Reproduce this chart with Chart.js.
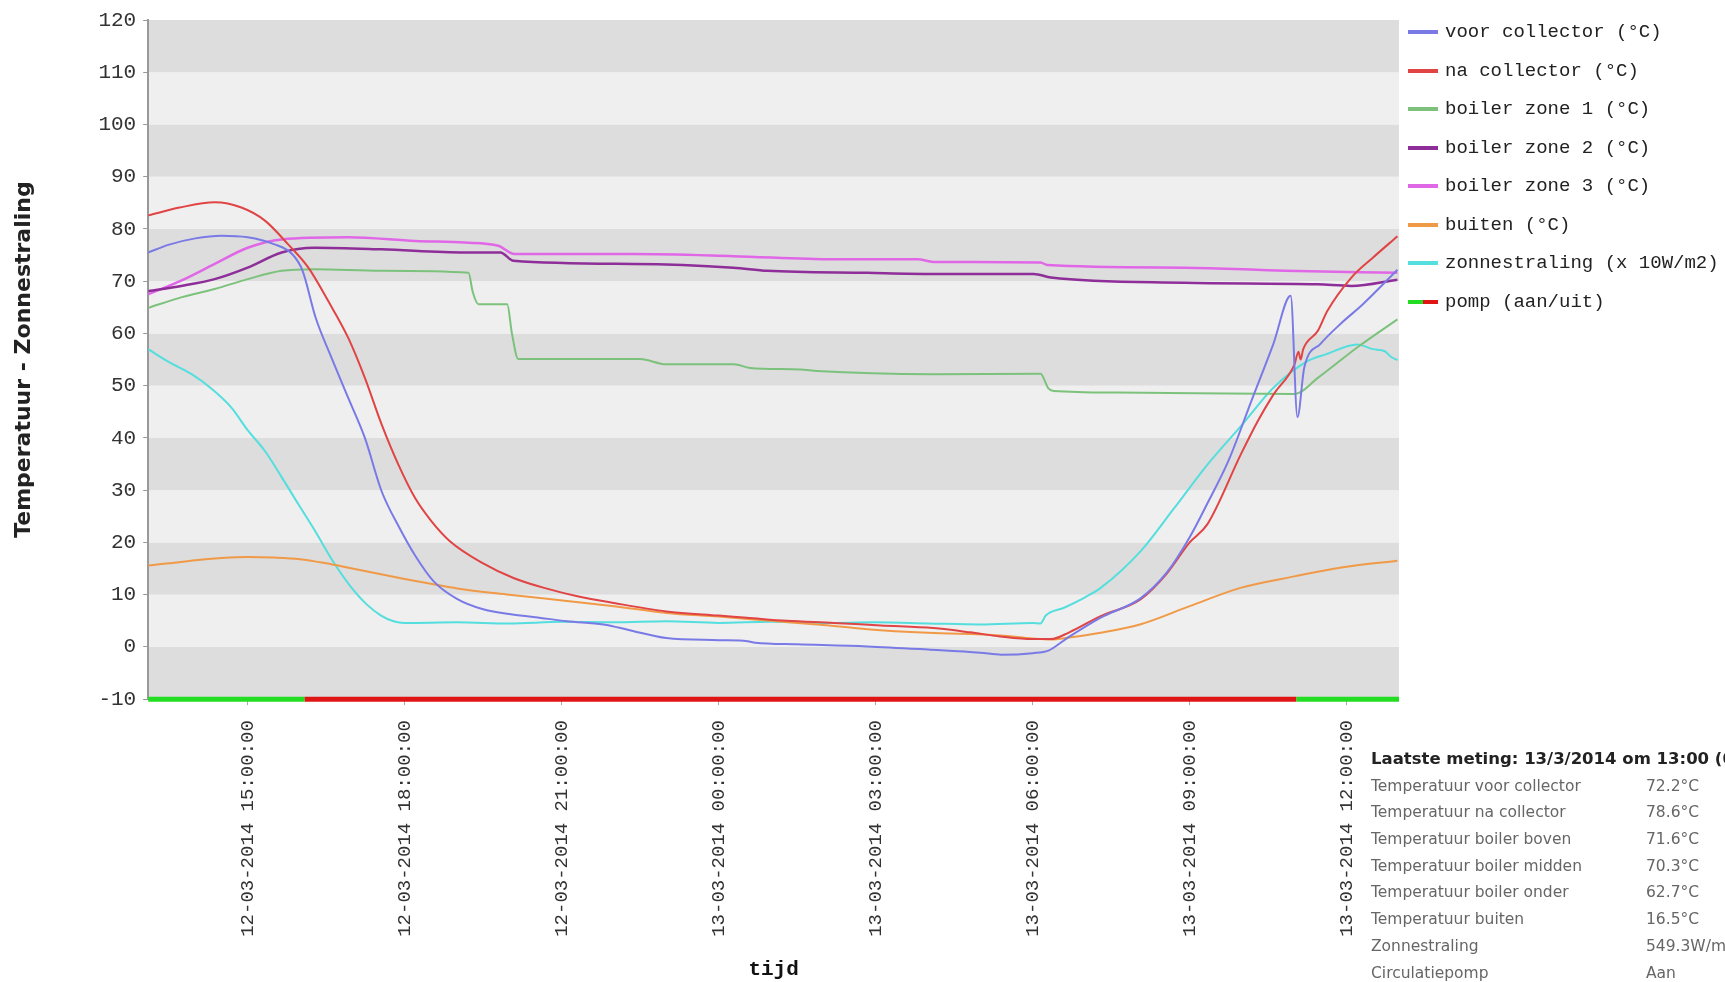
<!DOCTYPE html>
<html>
<head>
<meta charset="utf-8">
<title>Zonneboiler</title>
<script src="https://cdn.jsdelivr.net/npm/chart.js@4/dist/chart.umd.min.js"></script>
<style>
  html, body { margin: 0; padding: 0; background: #fff; overflow: hidden; }
  #wrap { position: relative; width: 1725px; height: 982px; overflow: hidden; }
  #grafiek { position: absolute; left: 0; top: 0; }
  #meting { position: absolute; left: 1371px; top: 746px; font-family: "DejaVu Sans", Verdana, sans-serif; font-size: 15.5px; color: #666; white-space: nowrap; }
  #meting .kop { font-weight: bold; color: #222; font-size: 16.5px; height: 26.7px; line-height: 26.7px; }
  #meting .rij { height: 26.7px; line-height: 26.7px; }
  #meting .rij span { display: inline-block; }
  #meting .rij span:first-child { width: 275px; }
</style>
</head>
<body>
<div id="wrap">
  <canvas id="grafiek" width="1725" height="982"></canvas>
  <div id="meting"></div>
</div>
<script>
// uren sinds 12-03-2014 00:00
const tijdVan = 13.1;
const tijdTot = 37.0;
const tickUren = [15, 18, 21, 24, 27, 30, 33, 36];
const tickLabels = [
  '12-03-2014 15:00:00', '12-03-2014 18:00:00', '12-03-2014 21:00:00', '13-03-2014 00:00:00',
  '13-03-2014 03:00:00', '13-03-2014 06:00:00', '13-03-2014 09:00:00', '13-03-2014 12:00:00'
];
const yTicks = [-10, 0, 10, 20, 30, 40, 50, 60, 70, 80, 90, 100, 110, 120];

const voorCollector = [
  [13.1, 75.5], [13.5, 77.0], [14.0, 78.2], [14.5, 78.7], [15.0, 78.4], [15.5, 77.1], [15.85, 75.2],
  [16.05, 72.0], [16.3, 63.0], [16.6, 55.4], [16.92, 47.7], [17.24, 40.0], [17.56, 29.8], [17.9, 22.8],
  [18.2, 17.5], [18.55, 12.6], [19.0, 9.2], [19.5, 7.2], [20.0, 6.3], [20.5, 5.7], [21.1, 4.9],
  [21.8, 4.3], [22.3, 3.2], [23.0, 1.7], [24.0, 1.3], [24.55, 1.1], [24.7, 0.8], [25.5, 0.5],
  [26.84, 0.1], [28.0, -0.5], [29.0, -1.1], [29.4, -1.5], [30.0, -1.2], [30.3, -0.7], [30.66, 1.7],
  [31.3, 5.6], [32.06, 9.3], [32.56, 14.2], [33.0, 21.0], [33.34, 27.5], [33.74, 35.6], [34.18, 47.1],
  [34.6, 58.0], [34.93, 67.2], [35.06, 44.0], [35.19, 53.5], [35.5, 58.0], [35.9, 62.0], [36.3, 65.5],
  [36.97, 72.2]
];
const naCollector = [
  [13.1, 82.6], [13.7, 84.1], [14.37, 85.1], [14.88, 84.1], [15.33, 81.6], [15.77, 77.1], [16.16, 72.6],
  [16.54, 66.2], [16.92, 59.2], [17.24, 51.5], [17.56, 42.6], [17.88, 34.9], [18.2, 28.5], [18.51, 24.1],
  [18.87, 20.2], [19.5, 16.0], [20.08, 13.2], [20.7, 11.2], [21.3, 9.7], [22.0, 8.4], [23.0, 6.8],
  [24.0, 6.0], [24.54, 5.6], [25.3, 5.0], [26.2, 4.6], [27.1, 4.1], [28.1, 3.6], [28.8, 2.8],
  [29.38, 2.0], [30.0, 1.5], [30.35, 1.5], [30.7, 2.8], [31.3, 5.9], [32.06, 9.1], [32.56, 14.0],
  [33.0, 20.0], [33.34, 23.5], [33.98, 36.9], [34.3, 43.2], [34.6, 48.3], [35.0, 54.0], [35.08, 56.5],
  [35.12, 55.0], [35.17, 57.0], [35.45, 60.5], [35.63, 64.3], [36.09, 70.7], [36.5, 74.5], [36.97, 78.6]
];
const boilerZone1 = [
  [13.1, 64.9], [13.73, 66.9], [14.37, 68.5], [15.0, 70.4], [15.65, 72.0], [16.28, 72.3], [17.56, 72.0],
  [19.22, 71.6], [19.3, 68.0], [19.41, 65.6], [19.96, 65.6], [20.05, 60.0], [20.17, 55.1], [22.5, 55.1],
  [23.0, 54.1], [24.29, 54.1], [24.6, 53.4], [25.56, 53.1], [25.88, 52.8], [28.1, 52.2], [30.15, 52.3],
  [30.3, 49.5], [30.4, 49.0], [31.62, 48.7], [35.0, 48.4], [35.45, 51.5], [36.2, 57.3], [36.97, 62.7]
];
const boilerZone2 = [
  [13.1, 68.1], [13.73, 69.1], [14.37, 70.4], [15.0, 72.6], [15.65, 75.5], [16.28, 76.4], [17.56, 76.1],
  [19.15, 75.5], [19.83, 75.5], [20.08, 73.9], [22.37, 73.3], [24.28, 72.6], [24.93, 72.0], [26.84, 71.6],
  [28.1, 71.4], [30.02, 71.4], [30.35, 70.7], [32.9, 69.7], [35.45, 69.4], [36.09, 69.1], [36.97, 70.3]
];
const boilerZone3 = [
  [13.1, 67.5], [13.73, 70.1], [14.37, 73.3], [15.0, 76.4], [15.65, 78.0], [16.92, 78.4], [18.2, 77.7],
  [19.15, 77.4], [19.79, 76.8], [20.1, 75.2], [22.37, 75.2], [24.28, 74.8], [26.2, 74.2], [27.8, 74.2],
  [28.1, 73.7], [30.15, 73.6], [30.28, 73.1], [32.9, 72.6], [34.81, 72.0], [36.97, 71.6]
];
const buiten = [
  [13.1, 15.6], [13.5, 16.0], [14.0, 16.6], [14.5, 17.0], [15.0, 17.2], [15.5, 17.1], [16.0, 16.8],
  [16.5, 16.0], [17.0, 15.0], [17.5, 14.0], [18.0, 13.0], [18.55, 12.0], [19.0, 11.2], [20.0, 10.0],
  [21.1, 8.8], [22.0, 7.8], [23.0, 6.5], [24.0, 5.8], [25.0, 5.0], [26.0, 4.2], [26.84, 3.4],
  [28.0, 2.7], [29.38, 2.2], [30.0, 1.6], [30.35, 1.4], [30.7, 1.8], [31.3, 2.7], [32.05, 4.3],
  [33.0, 7.8], [33.97, 11.3], [35.0, 13.5], [35.9, 15.2], [36.97, 16.5]
];
const zonnestraling = [
  [13.1, 57.0], [13.5, 54.5], [13.93, 52.2], [14.3, 49.5], [14.69, 45.8], [15.0, 41.5], [15.33, 37.5],
  [15.65, 32.5], [15.97, 27.3], [16.3, 22.0], [16.63, 16.4], [16.95, 11.8], [17.28, 8.1], [17.55, 6.0],
  [17.79, 4.9], [18.0, 4.6], [19.0, 4.7], [20.0, 4.5], [21.0, 4.8], [22.0, 4.7], [23.0, 4.9],
  [24.0, 4.6], [25.0, 4.8], [26.0, 4.6], [27.0, 4.7], [28.0, 4.5], [29.0, 4.3], [30.0, 4.6],
  [30.15, 4.5], [30.25, 6.0], [30.6, 7.5], [31.0, 9.5], [31.3, 11.3], [32.06, 18.3], [32.7, 26.5],
  [33.34, 34.9], [34.0, 42.5], [34.6, 49.6], [35.25, 54.7], [35.6, 56.0], [36.2, 57.9], [36.5, 57.0],
  [36.73, 56.6], [36.85, 55.5], [36.97, 54.9]
];
// pomp: schakelmomenten en status per stuk (1 = aan, 0 = uit)
const pompWissel = [13.1, 16.09, 35.04, 37.0];
const pompStatus = [1, 0, 1];

const metingLabels = ['Temperatuur voor collector', 'Temperatuur na collector', 'Temperatuur boiler boven',
  'Temperatuur boiler midden', 'Temperatuur boiler onder', 'Temperatuur buiten', 'Zonnestraling', 'Circulatiepomp'];
const metingWaarden = ['72.2°C', '78.6°C', '71.6°C', '70.3°C', '62.7°C', '16.5°C', '549.3W/m²', 'Aan'];

const AAN = '#22dd22', UIT = '#e01515';
const mono = 'Liberation Mono, Courier New, monospace';

function swatch(kleuren) {
  const c = document.createElement('canvas');
  c.width = 38; c.height = 4;
  const g = c.getContext('2d');
  const w = 30 / kleuren.length;
  kleuren.forEach((k, i) => { g.fillStyle = k; g.fillRect(i * w, 0, w, 4); });
  return c;
}

function lijn(label, data, kleur, dikte) {
  return {
    label, data, borderColor: kleur, backgroundColor: kleur, borderWidth: dikte || 2,
    pointRadius: 0, pointStyle: swatch([kleur]), cubicInterpolationMode: 'monotone'
  };
}

const banden = {
  id: 'banden',
  beforeDraw(chart) {
    const {ctx, chartArea: a, scales: {y}} = chart;
    ctx.save();
    for (let v = y.min; v < y.max; v += 10) {
      ctx.fillStyle = ((v - y.min) / 10) % 2 === 0 ? '#dddddd' : '#efefef';
      const top = y.getPixelForValue(v + 10), bottom = y.getPixelForValue(v);
      ctx.fillRect(a.left, top, a.right - a.left, bottom - top);
    }
    ctx.restore();
  }
};

new Chart(document.getElementById('grafiek'), {
  type: 'line',
  data: {
    datasets: [
      lijn('voor collector (°C)', voorCollector, '#7a7ae6'),
      lijn('na collector (°C)', naCollector, '#e04444'),
      lijn('boiler zone 1 (°C)', boilerZone1, '#7cc27c'),
      lijn('boiler zone 2 (°C)', boilerZone2, '#8e2e98', 2.5),
      lijn('boiler zone 3 (°C)', boilerZone3, '#e068e6', 2.5),
      lijn('buiten (°C)', buiten, '#f09a48'),
      lijn('zonnestraling (x 10W/m2)', zonnestraling, '#55dede'),
      {
        label: 'pomp (aan/uit)',
        data: pompWissel.map(t => [t, -10]),
        borderColor: AAN, borderWidth: 5, pointRadius: 0, clip: 4,
        pointStyle: swatch([AAN, UIT]),
        segment: { borderColor: c => pompStatus[c.p0DataIndex] ? AAN : UIT }
      }
    ]
  },
  options: {
    responsive: false, animation: false, events: [],
    layout: { padding: { left: 8, top: 3, right: 0, bottom: 0 } },
    scales: {
      x: {
        type: 'linear', min: tijdVan, max: tijdTot,
        afterBuildTicks: s => { s.ticks = tickUren.map(v => ({ value: v })); },
        ticks: {
          autoSkip: false, minRotation: 90, maxRotation: 90, padding: 15, color: '#333',
          font: { family: mono, size: 19 }, callback: (v, i) => tickLabels[i]
        },
        grid: { display: true, drawOnChartArea: false, drawTicks: true, tickLength: 6, color: '#aaa' },
        border: { display: false },
        title: { display: true, text: 'tijd', color: '#111', font: { family: mono, size: 21, weight: 'bold' }, padding: { top: 5, bottom: 0 } }
      },
      y: {
        min: -10, max: 120,
        afterBuildTicks: s => { s.ticks = yTicks.map(v => ({ value: v })); },
        afterFit: s => { s.paddingTop = 20; },
        ticks: { padding: 7, color: '#333', font: { family: mono, size: 21 } },
        grid: { display: true, drawOnChartArea: false, drawTicks: true, tickLength: 5, color: '#999' },
        border: { display: true, color: '#999', width: 2 },
        title: {
          display: true, text: 'Temperatuur - Zonnestraling', color: '#222',
          font: { family: 'DejaVu Sans', size: 22, weight: 'bold' }, padding: { top: 3, bottom: 54 }
        }
      }
    },
    plugins: {
      tooltip: { enabled: false },
      legend: {
        position: 'right', align: 'start', maxWidth: 326,
        labels: { usePointStyle: true, pointStyleWidth: 17, padding: 19.5, color: '#222', font: { family: mono, size: 19 } }
      }
    }
  },
  plugins: [banden]
});

const meting = document.getElementById('meting');
meting.innerHTML = '<div class="kop">Laatste meting: 13/3/2014 om 13:00 (0 minuten geleden)</div>' +
  metingLabels.map((l, i) => '<div class="rij"><span>' + l + '</span><span>' + metingWaarden[i] + '</span></div>').join('');
</script>
</body>
</html>
